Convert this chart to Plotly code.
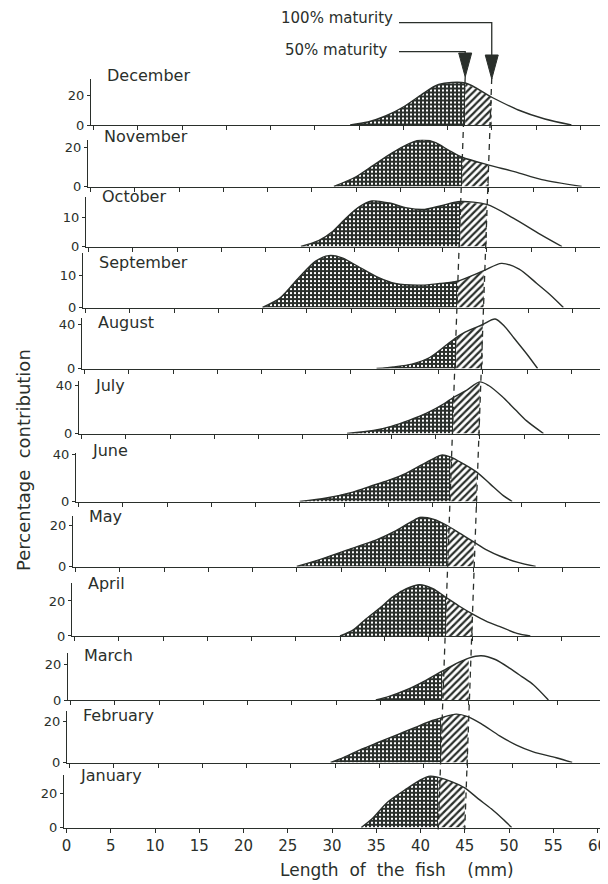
import plotly.graph_objects as go

# ---------------- data ----------------
months = ["December", "November", "October", "September", "August", "July",
          "June", "May", "April", "March", "February", "January"]

dec_len = [29, 31, 33, 35, 37, 39, 42, 45, 48, 51, 54]
dec_pct = [0, 2, 6, 12, 20, 27, 28, 18.5, 10, 4, 0]
nov_len = [27.5, 30, 32, 34, 36, 37.5, 39, 40.5, 42, 45, 48, 51, 55.5]
nov_pct = [0, 5, 11, 17, 22, 24, 22.5, 18.5, 15, 11, 7.5, 3.5, 0]
oct_len = [24, 26, 27.5, 29, 30.5, 32, 34, 36, 38, 40, 42, 45, 48, 51, 53.5]
oct_pct = [0, 2, 5, 9.5, 13.5, 15.7, 15, 13.3, 12.8, 14.2, 15.5, 14.5, 9.8, 4.3, 0]
sep_len = [20, 22, 24, 26, 27.5, 29, 31, 33, 35, 38, 40, 42, 45, 47, 49, 51, 52.5, 54]
sep_pct = [0, 3, 9, 14.5, 16.2, 15.5, 12.5, 9.5, 7.5, 7, 7.5, 8.2, 11.5, 13.8, 12, 7.5, 4, 0]
aug_len = [33, 35, 37, 39, 41, 42, 43, 45, 46.4, 47.5, 48.5, 50, 51.2]
aug_pct = [0, 1.5, 4, 10, 22, 28, 33, 40, 45, 38, 28, 13, 0]
jul_len = [30, 33, 35, 37, 39, 41, 42, 43.5, 45, 46, 47.5, 49, 50.3, 52.2]
jul_pct = [0, 2.5, 6, 11, 17, 25, 30, 36, 43, 40, 31, 20, 10.5, 0]
jun_len = [25, 28, 31, 33, 35, 37, 39, 41, 42, 43.5, 45, 46.5, 48, 49]
jun_pct = [0, 3, 8, 13, 18, 24, 32, 39.5, 38, 32, 25, 15, 5, 0]
may_len = [25, 28, 31, 34, 36, 38, 39, 40.5, 42, 43.5, 45, 46.5, 48, 50, 52]
may_pct = [0, 4, 8.5, 13, 17, 22, 24, 23, 20, 16, 12, 8, 5, 2, 0]
apr_len = [30, 31.5, 33, 34.5, 36, 37.5, 39, 40.5, 42, 43.5, 45, 46.5, 48, 50, 51.5]
apr_pct = [0, 3.5, 10, 16, 22.5, 27, 29.3, 27, 22, 17, 12.5, 8.5, 5.5, 1.5, 0]
mar_len = [34.5, 36, 38, 40, 42, 43.5, 45, 46.4, 48, 49.7, 51, 52.3, 54]
mar_pct = [0, 2, 5.7, 10.5, 16, 20, 23.3, 24.6, 22.5, 17.4, 13, 8.5, 0]
feb_len = [29.5, 31, 33, 35, 37, 39, 41, 42, 43.7, 45, 46.5, 48.6, 50.5, 52.4, 55, 56.8]
feb_pct = [0, 2.5, 6.5, 10, 13.5, 17, 20.5, 21.8, 23.6, 22.4, 19, 13, 8.5, 5.2, 2.3, 0]
jan_len = [33.3, 34.5, 36.3, 38.5, 40, 41.1, 42, 43.5, 45, 46.5, 48, 49.3, 50.3]
jan_pct = [0, 5, 15, 23, 28, 30.2, 29.5, 27, 23.3, 17, 11, 5, 0]

lengths = [dec_len, nov_len, oct_len, sep_len, aug_len, jul_len,
           jun_len, may_len, apr_len, mar_len, feb_len, jan_len]
percents = [dec_pct, nov_pct, oct_pct, sep_pct, aug_pct, jul_pct,
            jun_pct, may_pct, apr_pct, mar_pct, feb_pct, jan_pct]

y_tick_label = [20, 20, 10, 10, 40, 40, 40, 20, 20, 20, 20, 20]
y_axis_max = [31, 24, 17, 17, 46, 44, 41, 24.5, 30.5, 26, 25, 31]
x_ticks = [0, 5, 10, 15, 20, 25, 30, 35, 40, 45, 50, 55, 60]
mat50 = 42   # 50 % maturity length (mm)
mat100 = 45  # 100 % maturity length (mm)

# ---------------- geometry (page pixels, mimicking the scanned page) ----------------
PAGE_W, PAGE_H = 608, 884
OFF = 8                            # browser body margin
W, H = PAGE_W - OFF, PAGE_H - OFF  # figure size
PPM = 8.85                         # pixels per mm
axis_px = [91, 88, 86, 83, 82, 79, 76, 73, 72, 68, 67, 64]
left_base = [116, 177, 238, 299, 360, 425, 493, 558, 630, 693, 756, 822]
tilt = [18, 19, 17, 17, 17, 17, 17, 17, 12, 14, 13, 11]
ppu = [1.5, 1.95, 2.9, 3.2, 1.1, 1.2, 1.175, 2.05, 1.75, 1.8, 2.05, 1.7]
label_y = [75, 136.7, 196.7, 263, 322.7, 386, 450.7, 516.7, 583.3, 655, 715, 775]

INK = "#2a2f2b"
FONT = "DejaVu Sans"


def fx(px):
    return (px - OFF) / W


def fy(py):
    return 1 - (py - OFF) / H


fig = go.Figure()
layout = {}
zero_px = []
base_px = []
for i in range(12):
    n = "" if i == 0 else str(i + 1)
    xr, yr = "x" + n, "y" + n
    L, V = lengths[i], percents[i]

    # cross-hatched part (below 50 % maturity)
    xs = [a for a in L if a <= mat50]
    ys = [b for a, b in zip(L, V) if a <= mat50]
    fig.add_trace(go.Scatter(x=xs, y=ys, mode="lines", xaxis=xr, yaxis=yr,
                             line=dict(width=0, shape="spline", smoothing=0.8),
                             fill="tozeroy", fillcolor="white",
                             fillpattern=dict(shape="+", fgcolor=INK, bgcolor="white",
                                              fgopacity=1, size=4, solidity=0.75),
                             hoverinfo="skip", showlegend=False))
    # hatched part (between 50 % and 100 % maturity)
    xs = [a for a in L if mat50 <= a <= mat100]
    ys = [b for a, b in zip(L, V) if mat50 <= a <= mat100]
    fig.add_trace(go.Scatter(x=xs, y=ys, mode="lines", xaxis=xr, yaxis=yr,
                             line=dict(width=0, shape="spline", smoothing=0.8),
                             fill="tozeroy", fillcolor="white",
                             fillpattern=dict(shape="/", fgcolor=INK, bgcolor="white",
                                              fgopacity=1, size=5, solidity=0.45),
                             hoverinfo="skip", showlegend=False))
    # outline
    fig.add_trace(go.Scatter(x=L, y=V, mode="lines", xaxis=xr, yaxis=yr,
                             line=dict(color=INK, width=1.4, shape="spline", smoothing=0.8),
                             hoverinfo="skip", showlegend=False))

    zero = axis_px[i] + 2.5
    right = min(PAGE_W, zero + 60.4 * PPM)
    base = left_base[i] + 0.5 * tilt[i]
    top = base - ppu[i] * y_axis_max[i]
    zero_px.append(zero)
    base_px.append(base)

    layout["xaxis" + n] = dict(
        domain=[fx(axis_px[i]), min(1.0, fx(right))],
        range=[(axis_px[i] - zero) / PPM, (right - zero) / PPM],
        anchor=yr, showline=True, linecolor=INK, linewidth=1.3,
        ticks="outside", ticklen=4, tickwidth=1.2, tickcolor=INK,
        tickvals=x_ticks, showticklabels=(i == 11),
        tickfont=dict(size=15, color=INK, family=FONT),
        ticklabeloverflow="allow",
        showgrid=False, zeroline=False, fixedrange=True, automargin=False)
    layout["yaxis" + n] = dict(
        domain=[fy(base), fy(top)],
        range=[0, y_axis_max[i]],
        anchor=xr, showline=True, linecolor=INK, linewidth=1.3,
        ticks="outside", ticklen=3, tickwidth=1, tickcolor=INK,
        tickvals=[0, y_tick_label[i]], ticktext=["0", str(y_tick_label[i])],
        tickfont=dict(size=13, color=INK, family=FONT),
        showgrid=False, zeroline=False, fixedrange=True, automargin=False)

annotations = []
for i in range(12):
    annotations.append(dict(text=months[i], x=fx(axis_px[i] + 14), y=fy(label_y[i]),
                            xref="paper", yref="paper", xanchor="left", yanchor="middle",
                            showarrow=False, font=dict(size=16, color=INK, family=FONT)))

annotations.append(dict(text="Length\u00a0 of\u00a0 the\u00a0 fish\u00a0\u00a0\u00a0 (mm)",
                        x=fx(397), y=fy(870), xref="paper", yref="paper",
                        xanchor="center", yanchor="middle", showarrow=False,
                        font=dict(size=17, color=INK, family=FONT)))
annotations.append(dict(text="Percentage\u00a0 contribution", textangle=-90,
                        x=fx(23), y=fy(460), xref="paper", yref="paper",
                        xanchor="center", yanchor="middle", showarrow=False,
                        font=dict(size=18, color=INK, family=FONT)))
annotations.append(dict(text="100% maturity", x=fx(395), y=fy(18),
                        xref="paper", yref="paper", xanchor="right", yanchor="middle",
                        showarrow=False, font=dict(size=15, color=INK, family=FONT)))
annotations.append(dict(text="50% maturity", x=fx(390), y=fy(50),
                        xref="paper", yref="paper", xanchor="right", yanchor="middle",
                        showarrow=False, font=dict(size=15, color=INK, family=FONT)))


def pt(px, py):
    return f"{fx(px):.5f},{fy(py):.5f}"


shapes = []
# dashed maturity lines running through all panels
for mm, ytop_px in ((mat50, 77), (mat100, 78)):
    x_top = zero_px[0] + mm * PPM
    x_bot = zero_px[11] + mm * PPM
    shapes.append(dict(type="line", xref="paper", yref="paper",
                       x0=fx(x_top), y0=fy(ytop_px), x1=fx(x_bot), y1=fy(base_px[11] + 2),
                       line=dict(color=INK, width=1.3, dash="6px,5px"), layer="above"))
# leader lines and arrowheads
x100 = zero_px[0] + mat100 * PPM
x50 = zero_px[0] + mat50 * PPM
shapes.append(dict(type="path", xref="paper", yref="paper",
                   path=f"M {pt(399, 22.7)} L {pt(x100, 22.7)} L {pt(x100, 58)}",
                   line=dict(color=INK, width=1.3)))
shapes.append(dict(type="path", xref="paper", yref="paper",
                   path=f"M {pt(399, 51.7)} L {pt(x50, 51.7)} L {pt(x50, 56)}",
                   line=dict(color=INK, width=1.3)))
for xa, ya in ((x100, 55), (x50, 53)):
    shapes.append(dict(type="path", xref="paper", yref="paper",
                       path=f"M {pt(xa - 6.5, ya)} L {pt(xa + 6.5, ya)} L {pt(xa, ya + 24)} Z",
                       fillcolor=INK, line=dict(color=INK, width=1)))

fig.update_layout(**layout)
fig.update_layout(width=W, height=H, autosize=False,
                  margin=dict(l=0, r=0, t=0, b=0, autoexpand=False),
                  paper_bgcolor="white", plot_bgcolor="rgba(0,0,0,0)",
                  annotations=annotations, shapes=shapes,
                  font=dict(family=FONT, color=INK))

fig.write_html("out.html")
